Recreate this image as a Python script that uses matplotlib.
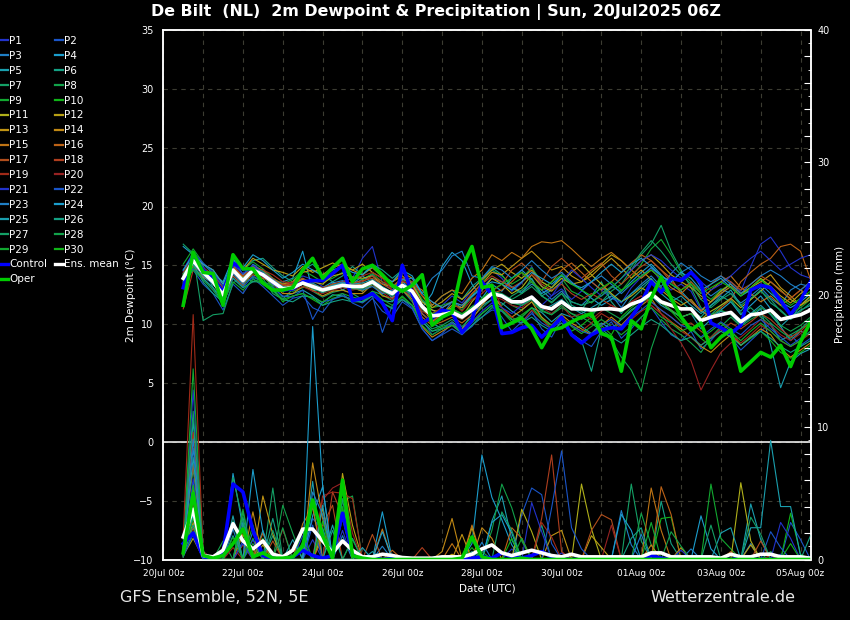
import numpy as np
import pandas as pd
import matplotlib
matplotlib.use('Agg')
import matplotlib.pyplot as plt
import matplotlib.dates as mdates
from matplotlib.ticker import MultipleLocator, FuncFormatter

# 6-hourly steps of the GFS ensemble run 20Jul2025 06Z
times = pd.date_range('2025-07-20 12:00', periods=64, freq='6h')

# ---- 2m dewpoint (deg C) ----
p01_dew = [14.5, 15.8, 14.9, 13.8, 12.9, 15.0, 14.1, 14.8,
           14.6, 13.9, 13.2, 13.5, 14.1, 13.8, 13.2, 13.0,
           13.6, 13.9, 15.6, 16.6, 13.5, 12.9, 13.8, 12.4,
           10.9, 10.2, 11.6, 12.4, 11.8, 12.9, 13.8, 14.6,
           13.9, 12.8, 13.5, 14.9, 13.2, 12.4, 13.0, 12.1,
           12.8, 13.6, 12.9, 12.2, 11.8, 13.1, 14.0, 14.8,
           13.6, 12.9, 13.4, 12.8, 11.2, 11.9, 12.5, 13.6,
           12.8, 14.9, 16.8, 17.4, 16.2, 14.8, 14.2, 13.9]
p02_dew = [13.6, 14.6, 13.4, 12.6, 11.2, 13.4, 12.6, 13.9,
           13.2, 12.4, 11.6, 12.2, 12.4, 11.4, 11.0, 12.1,
           12.6, 11.8, 11.4, 12.2, 11.1, 10.6, 11.9, 11.3,
           9.6, 8.6, 9.2, 10.1, 9.2, 9.8, 10.9, 11.6,
           10.6, 9.4, 10.2, 11.1, 9.6, 8.9, 10.4, 9.2,
           8.6, 8.1, 9.4, 10.2, 8.8, 9.6, 10.6, 11.4,
           10.2, 9.1, 8.6, 9.4, 7.9, 8.6, 9.6, 8.9,
           7.8, 8.6, 9.4, 10.1, 8.6, 9.1, 8.2, 8.8]
p03_dew = [14.1, 15.6, 14.6, 14.0, 12.2, 14.9, 13.8, 15.1,
           14.5, 13.7, 12.8, 13.3, 13.9, 13.4, 12.6, 13.5,
           13.7, 13.4, 13.8, 14.2, 13.1, 12.2, 13.9, 13.6,
           12.0, 11.2, 10.8, 11.9, 11.4, 12.3, 13.1, 13.9,
           13.6, 13.2, 12.7, 13.4, 12.9, 12.1, 12.8, 11.9,
           11.6, 12.4, 13.1, 12.5, 11.4, 12.6, 13.4, 14.1,
           13.2, 14.3, 15.2, 14.6, 13.1, 12.4, 13.0, 12.6,
           11.8, 12.4, 13.1, 12.2, 11.6, 12.9, 13.4, 13.2]
p04_dew = [16.6, 15.9, 15.1, 14.3, 13.6, 15.6, 14.2, 14.9,
           14.1, 13.5, 13.6, 13.9, 16.2, 12.8, 13.1, 13.6,
           12.9, 13.4, 14.1, 13.5, 12.6, 12.9, 13.6, 12.9,
           11.4, 12.6, 14.9, 16.1, 15.4, 13.4, 12.2, 13.4,
           12.8, 13.9, 14.6, 13.8, 12.6, 13.1, 14.2, 13.5,
           12.9, 12.2, 11.6, 12.1, 12.8, 13.6, 14.4, 15.1,
           14.2, 13.4, 12.8, 11.9, 11.1, 10.6, 11.2, 11.9,
           10.8, 11.6, 12.4, 11.3, 9.8, 8.6, 9.4, 9.1]
p05_dew = [13.2, 14.9, 13.9, 13.1, 11.8, 14.1, 13.2, 14.5,
           14.1, 13.2, 12.3, 12.6, 12.9, 12.4, 11.8, 12.5,
           12.4, 12.1, 11.9, 12.6, 12.0, 11.9, 12.9, 12.3,
           10.9, 10.1, 9.6, 10.2, 9.6, 10.9, 11.6, 12.1,
           11.8, 11.1, 10.6, 11.4, 11.0, 10.2, 10.9, 10.6,
           9.8, 9.2, 10.1, 9.6, 10.4, 11.2, 11.8, 12.4,
           11.6, 11.1, 10.6, 10.9, 9.6, 10.4, 11.1, 10.8,
           9.9, 10.6, 11.3, 8.2, 4.6, 6.8, 7.5, 7.9]
p06_dew = [13.9, 16.2, 14.9, 13.1, 12.2, 14.9, 14.6, 15.4,
           15.6, 14.8, 14.1, 13.6, 14.6, 15.1, 14.2, 13.6,
           14.1, 14.9, 14.2, 15.1, 14.6, 13.9, 14.6, 13.4,
           11.9, 11.6, 12.4, 12.9, 12.1, 13.2, 13.9, 14.8,
           14.2, 13.1, 12.6, 13.9, 12.4, 12.9, 13.6, 11.6,
           11.2, 12.4, 13.6, 11.9, 10.9, 12.1, 12.9, 13.8,
           13.1, 12.4, 11.9, 11.2, 10.6, 11.6, 12.4, 11.9,
           11.1, 12.1, 12.9, 11.8, 11.2, 10.4, 11.6, 12.3]
p07_dew = [16.8, 16.0, 10.3, 10.8, 10.9, 13.5, 14.0, 13.6,
           13.9, 12.6, 12.1, 13.0, 13.4, 12.8, 12.3, 12.7,
           12.9, 12.6, 12.1, 12.8, 12.5, 12.0, 12.9, 11.9,
           10.4, 9.6, 9.9, 10.4, 9.8, 10.6, 11.4, 12.1,
           11.6, 12.4, 12.9, 13.6, 12.4, 11.8, 12.6, 11.4,
           11.1, 10.6, 11.9, 12.8, 13.4, 14.6, 15.9, 16.8,
           18.4, 16.2, 14.6, 13.1, 11.4, 10.8, 11.6, 12.1,
           10.9, 11.4, 10.6, 9.9, 8.6, 9.1, 9.6, 10.4]
p08_dew = [14.6, 15.7, 14.1, 13.9, 12.1, 14.4, 13.4, 14.0,
           13.6, 13.3, 13.1, 12.8, 13.1, 13.4, 12.9, 12.8,
           13.6, 13.1, 12.8, 13.4, 12.9, 12.4, 13.1, 12.6,
           11.1, 10.9, 11.2, 10.8, 10.4, 11.1, 11.9, 12.6,
           12.4, 11.6, 11.2, 11.9, 11.1, 10.8, 11.4, 10.9,
           10.6, 10.1, 9.4, 8.6, 7.2, 6.1, 4.3, 7.9,
           10.4, 9.6, 9.1, 8.4, 7.6, 8.9, 9.8, 10.6,
           9.8, 10.4, 10.9, 10.1, 9.4, 8.8, 9.6, 10.1]
p09_dew = [15.1, 16.4, 15.2, 14.3, 13.1, 15.4, 14.6, 15.3,
           14.7, 13.9, 13.4, 13.8, 14.6, 14.1, 13.6, 13.9,
           14.4, 14.0, 13.8, 14.3, 13.6, 13.1, 13.8, 13.4,
           12.1, 11.4, 11.6, 11.9, 11.2, 12.4, 13.6, 14.6,
           14.1, 13.4, 13.9, 14.8, 13.6, 13.1, 13.9, 12.8,
           12.4, 11.8, 12.6, 13.2, 12.8, 13.9, 15.1, 16.4,
           17.2, 15.9, 14.4, 13.6, 12.8, 12.1, 12.9, 13.4,
           12.6, 13.1, 13.8, 12.9, 11.6, 10.9, 11.4, 12.1]
p10_dew = [13.4, 14.8, 14.0, 13.6, 12.8, 14.6, 13.7, 14.4,
           14.2, 13.1, 11.9, 12.4, 12.6, 12.1, 11.6, 12.2,
           12.4, 12.0, 11.9, 12.6, 11.8, 11.4, 12.3, 11.6,
           10.2, 9.4, 9.8, 10.1, 9.4, 10.2, 10.9, 11.6,
           11.1, 10.2, 10.8, 11.4, 10.6, 9.6, 10.4, 9.4,
           9.9, 10.6, 9.9, 9.1, 10.6, 11.4, 12.1, 12.8,
           11.9, 11.1, 10.2, 9.6, 8.8, 8.1, 8.9, 9.6,
           8.2, 8.8, 9.4, 8.6, 7.6, 7.1, 7.6, 8.2]
p11_dew = [14.2, 15.6, 14.4, 13.4, 12.4, 14.8, 13.6, 14.4,
           14.0, 13.4, 13.2, 13.4, 13.8, 13.6, 13.4, 14.1,
           14.3, 14.0, 13.9, 14.1, 13.4, 13.2, 13.9, 13.4,
           11.9, 11.2, 11.0, 11.4, 10.6, 11.9, 12.9, 13.9,
           13.4, 12.6, 13.1, 14.2, 13.2, 12.8, 13.6, 14.4,
           15.1, 14.2, 13.4, 12.6, 11.9, 12.4, 13.1, 12.6,
           11.8, 11.2, 10.6, 10.9, 10.4, 11.1, 11.6, 12.2,
           11.4, 12.1, 12.8, 13.6, 12.9, 12.1, 11.6, 12.4]
p12_dew = [13.8, 15.6, 15.1, 14.6, 13.4, 15.1, 14.6, 15.6,
           15.1, 14.6, 14.4, 14.1, 14.9, 14.4, 14.8, 15.2,
           14.9, 14.6, 15.1, 14.4, 13.9, 13.6, 14.4, 13.9,
           12.4, 11.4, 11.9, 12.6, 12.1, 12.9, 13.8, 14.6,
           15.1, 14.4, 13.9, 14.6, 13.6, 13.1, 13.9, 13.4,
           13.6, 14.4, 15.1, 15.9, 15.4, 14.6, 15.4, 15.9,
           15.1, 14.2, 13.6, 13.1, 12.4, 11.9, 12.8, 13.4,
           12.6, 13.1, 13.9, 13.2, 12.4, 11.8, 12.6, 13.1]
p13_dew = [14.0, 15.5, 14.6, 13.9, 12.4, 14.9, 14.0, 14.6,
           14.3, 13.8, 13.4, 13.6, 14.4, 14.6, 14.2, 14.8,
           15.1, 14.6, 14.2, 14.8, 14.0, 13.6, 14.1, 13.4,
           11.4, 10.2, 10.9, 11.6, 11.4, 12.6, 13.4, 14.4,
           14.2, 14.9, 15.6, 16.2, 15.4, 14.6, 14.9, 14.1,
           13.6, 14.1, 14.9, 15.6, 14.8, 13.9, 14.6, 13.8,
           12.9, 12.2, 11.6, 12.1, 11.1, 11.9, 12.6, 13.2,
           12.4, 13.1, 13.6, 14.2, 13.1, 12.4, 11.6, 12.1]
p14_dew = [13.7, 15.3, 14.0, 13.5, 12.3, 14.7, 13.8, 14.5,
           14.3, 13.4, 12.6, 12.6, 13.2, 12.9, 12.4, 12.8,
           12.9, 12.6, 12.6, 13.4, 12.4, 12.2, 12.9, 12.1,
           9.8, 8.9, 9.4, 9.9, 9.6, 10.4, 11.6, 12.6,
           11.4, 10.6, 11.2, 11.9, 10.6, 9.9, 10.8, 10.1,
           9.6, 9.1, 9.9, 10.6, 9.9, 10.8, 11.6, 12.2,
           10.9, 10.2, 9.6, 8.9, 8.1, 7.6, 8.4, 9.1,
           8.2, 8.9, 9.6, 9.1, 7.9, 7.2, 7.8, 8.4]
p15_dew = [14.3, 15.9, 14.8, 13.6, 12.9, 14.6, 13.9, 14.9,
           14.6, 13.6, 12.9, 13.4, 13.8, 13.1, 12.9, 13.4,
           13.4, 13.1, 12.8, 13.6, 12.8, 12.4, 13.6, 13.4,
           12.9, 11.6, 12.4, 12.9, 12.6, 13.9, 14.6, 15.9,
           15.4, 16.1, 15.6, 16.6, 17.0, 16.9, 17.1, 16.4,
           15.6, 14.9, 15.6, 16.1, 15.4, 14.6, 13.9, 14.6,
           13.9, 13.1, 12.6, 13.4, 12.1, 12.9, 13.6, 14.1,
           13.1, 12.6, 11.9, 12.4, 11.6, 12.2, 12.9, 12.4]
p16_dew = [13.5, 15.0, 14.3, 13.8, 12.6, 14.4, 13.5, 14.2,
           13.9, 13.6, 13.4, 13.1, 13.4, 13.0, 12.9, 13.2,
           13.4, 13.3, 13.4, 13.6, 12.9, 12.6, 13.2, 12.4,
           10.6, 9.9, 10.2, 10.6, 10.1, 10.8, 11.9, 12.6,
           12.9, 13.6, 14.4, 13.6, 12.9, 13.6, 14.6, 15.2,
           14.4, 13.6, 12.9, 13.6, 14.4, 15.2, 15.9, 15.4,
           14.6, 13.9, 12.6, 11.9, 11.2, 10.6, 11.4, 12.1,
           13.6, 14.4, 15.1, 15.6, 16.6, 16.8, 16.2, 13.8]
p17_dew = [13.9, 15.4, 14.5, 13.7, 11.6, 14.1, 13.3, 14.6,
           14.4, 13.9, 13.3, 13.6, 13.9, 13.4, 13.1, 13.4,
           13.6, 13.5, 13.7, 13.9, 13.4, 12.9, 13.4, 12.6,
           10.9, 10.1, 10.9, 11.2, 10.6, 11.4, 12.1, 12.8,
           13.4, 14.6, 15.2, 14.4, 13.6, 14.9, 15.6, 14.8,
           13.9, 14.6, 15.2, 14.1, 13.4, 14.2, 14.9, 15.4,
           14.6, 13.6, 12.9, 13.6, 12.6, 13.4, 14.1, 13.6,
           12.9, 13.4, 14.1, 13.6, 12.8, 12.2, 12.9, 13.6]
p18_dew = [11.3, 14.6, 14.8, 14.2, 13.1, 14.9, 14.1, 14.8,
           14.1, 13.5, 13.3, 13.4, 13.6, 13.3, 13.1, 13.3,
           13.2, 13.4, 13.6, 14.1, 13.6, 13.2, 13.9, 13.6,
           12.4, 11.9, 11.4, 11.9, 11.6, 12.6, 13.4, 14.1,
           13.6, 13.1, 13.6, 14.2, 13.4, 12.9, 13.4, 12.6,
           12.1, 12.6, 12.1, 11.6, 11.1, 11.9, 12.4, 11.9,
           11.2, 10.6, 9.9, 10.1, 9.4, 8.8, 9.4, 10.1,
           9.6, 10.2, 10.9, 10.4, 9.6, 8.9, 9.4, 10.2]
p19_dew = [14.4, 15.6, 14.7, 14.1, 12.8, 14.7, 13.8, 14.6,
           14.6, 14.2, 13.6, 13.5, 13.4, 13.1, 12.8, 13.2,
           13.6, 13.9, 14.1, 14.4, 13.9, 12.9, 13.7, 13.2,
           11.6, 10.9, 11.4, 11.9, 11.1, 12.1, 12.6, 13.4,
           11.4, 10.6, 10.1, 11.2, 10.4, 9.6, 10.6, 9.9,
           9.4, 10.1, 10.9, 10.4, 9.6, 10.4, 11.1, 11.6,
           10.9, 10.2, 9.4, 8.9, 8.2, 8.9, 9.6, 9.1,
           8.4, 9.1, 9.9, 9.4, 8.6, 8.1, 8.6, 9.2]
p20_dew = [14.0, 15.3, 14.4, 13.6, 12.5, 14.4, 13.6, 14.4,
           14.0, 13.6, 13.0, 12.9, 13.2, 12.8, 12.6, 12.9,
           13.1, 12.9, 13.1, 13.4, 12.7, 12.1, 12.9, 12.4,
           11.1, 10.6, 10.8, 10.9, 10.4, 11.1, 11.9, 12.4,
           12.1, 11.6, 11.4, 12.1, 11.4, 10.9, 11.6, 10.6,
           10.9, 10.4, 11.1, 11.6, 11.2, 11.9, 12.4, 11.6,
           10.9, 9.6, 8.4, 6.9, 4.4, 6.1, 7.6, 8.4,
           8.9, 9.6, 10.4, 9.9, 9.1, 8.6, 9.2, 9.9]
p21_dew = [14.6, 16.1, 15.2, 14.4, 13.2, 15.1, 14.3, 15.0,
           14.4, 13.6, 12.9, 13.1, 13.6, 13.3, 12.9, 13.1,
           13.4, 13.1, 13.3, 13.6, 13.0, 12.4, 13.1, 12.4,
           10.4, 9.1, 9.6, 10.1, 9.4, 10.2, 11.1, 11.8,
           11.4, 10.9, 11.6, 12.4, 11.6, 12.4, 13.6, 14.6,
           13.9, 13.1, 12.4, 13.1, 13.9, 14.6, 15.4, 15.9,
           15.4, 14.6, 13.9, 14.4, 13.6, 12.9, 13.4, 14.1,
           14.9, 15.6, 16.2, 15.4, 14.6, 15.1, 15.6, 15.9]
p22_dew = [13.3, 14.7, 13.8, 12.9, 11.7, 13.9, 13.1, 14.1,
           13.6, 13.1, 12.4, 12.3, 12.9, 10.4, 11.9, 12.1,
           12.4, 12.1, 11.8, 12.4, 9.3, 11.6, 12.1, 11.4,
           9.6, 8.6, 9.1, 9.6, 9.1, 9.9, 10.6, 11.2,
           11.1, 10.4, 10.1, 10.9, 10.1, 9.6, 10.4, 9.9,
           9.4, 9.1, 9.9, 10.4, 9.8, 10.6, 11.2, 11.9,
           11.2, 10.6, 9.9, 9.6, 8.9, 9.6, 10.2, 9.6,
           9.1, 9.9, 10.4, 9.6, 8.9, 8.2, 8.8, 9.4]
p23_dew = [13.6, 15.2, 14.1, 13.4, 12.4, 14.3, 13.4, 14.6,
           14.2, 13.4, 12.9, 13.2, 13.6, 13.1, 12.7, 13.2,
           13.6, 13.2, 12.9, 13.2, 12.6, 12.9, 13.8, 13.9,
           12.6, 13.9, 14.6, 15.8, 16.2, 14.1, 13.9, 14.9,
           14.6, 13.9, 14.6, 15.4, 14.6, 13.9, 14.4, 13.6,
           12.9, 13.6, 14.1, 13.4, 12.6, 13.4, 14.1, 14.8,
           14.1, 13.6, 14.4, 14.9, 14.1, 13.6, 14.1, 13.4,
           12.6, 13.4, 14.1, 14.6, 14.1, 13.4, 12.9, 13.6]
p24_dew = [14.6, 15.9, 15.1, 14.6, 13.4, 15.4, 14.8, 15.9,
           15.4, 14.6, 13.9, 14.4, 15.1, 14.6, 14.1, 14.6,
           14.9, 14.4, 14.2, 14.9, 14.1, 13.6, 14.6, 14.1,
           12.6, 11.9, 11.4, 11.9, 11.6, 12.4, 13.1, 13.6,
           13.4, 12.9, 13.6, 14.4, 13.9, 13.4, 14.1, 13.4,
           13.1, 13.6, 14.4, 15.1, 14.4, 15.1, 15.6, 14.9,
           14.1, 13.6, 14.4, 13.9, 12.9, 13.4, 13.9, 13.1,
           12.4, 12.9, 13.4, 12.6, 11.9, 11.4, 11.9, 12.6]
p25_dew = [14.1, 15.5, 14.5, 13.5, 12.2, 14.5, 13.6, 14.5,
           14.3, 13.8, 13.2, 13.0, 13.4, 13.5, 13.0, 13.3,
           13.5, 13.4, 13.5, 13.8, 13.2, 12.7, 13.1, 12.6,
           11.4, 10.6, 10.9, 11.1, 10.6, 11.4, 12.0, 12.6,
           12.4, 11.9, 11.6, 12.1, 11.2, 11.6, 12.1, 11.4,
           10.9, 11.4, 11.9, 12.4, 11.9, 12.6, 13.2, 13.9,
           12.6, 11.9, 12.4, 11.6, 10.9, 11.6, 12.2, 12.9,
           11.6, 10.9, 11.6, 10.8, 9.8, 10.6, 11.2, 11.6]
p26_dew = [14.3, 15.1, 13.6, 12.6, 11.9, 13.9, 13.1, 13.6,
           13.6, 12.9, 12.1, 11.9, 12.4, 12.3, 11.6, 11.9,
           12.1, 11.9, 11.9, 12.4, 11.8, 11.3, 12.1, 11.6,
           10.2, 9.4, 9.6, 9.9, 9.2, 9.9, 10.6, 11.4,
           11.2, 10.4, 10.1, 10.6, 9.9, 9.4, 10.1, 9.2,
           8.6, 6.0, 9.6, 8.9, 8.4, 9.1, 9.8, 10.4,
           9.9, 9.2, 8.6, 8.9, 8.2, 8.8, 9.4, 8.9,
           8.2, 8.9, 9.4, 8.8, 8.1, 7.6, 8.1, 8.6]
p27_dew = [13.8, 15.5, 14.3, 13.6, 12.5, 14.5, 13.9, 14.7,
           14.5, 13.5, 13.1, 13.2, 13.6, 13.0, 12.7, 13.0,
           13.2, 13.0, 13.0, 13.4, 12.8, 12.4, 13.0, 12.5,
           11.3, 10.7, 10.9, 11.3, 10.8, 11.5, 12.1, 12.8,
           12.6, 12.1, 12.6, 13.2, 12.4, 11.9, 12.6, 11.9,
           11.6, 11.9, 12.4, 13.1, 13.9, 14.9, 16.1, 17.1,
           16.2, 15.1, 14.2, 13.4, 12.1, 11.4, 12.1, 12.6,
           11.6, 12.2, 12.8, 12.1, 11.1, 10.4, 11.1, 11.8]
p28_dew = [14.2, 15.6, 14.5, 13.8, 12.7, 14.6, 13.6, 14.4,
           14.2, 13.7, 13.1, 13.0, 13.5, 13.2, 12.8, 13.0,
           13.3, 13.1, 13.1, 13.6, 13.0, 12.5, 13.2, 12.7,
           11.5, 10.8, 10.6, 10.9, 10.5, 11.2, 11.8, 12.6,
           12.4, 11.8, 11.6, 12.1, 11.2, 10.8, 11.6, 10.9,
           10.4, 10.9, 11.4, 10.9, 10.4, 11.1, 11.8, 12.4,
           11.8, 11.2, 10.6, 10.9, 10.2, 10.8, 11.2, 10.8,
           10.1, 10.8, 11.4, 10.9, 9.9, 9.4, 9.9, 10.6]
p29_dew = [13.5, 14.6, 13.8, 12.9, 11.8, 13.6, 12.9, 13.8,
           13.4, 12.8, 12.1, 12.4, 12.6, 12.2, 11.9, 12.4,
           12.6, 12.3, 12.1, 12.8, 12.1, 11.6, 12.4, 11.6,
           9.9, 9.1, 9.6, 9.9, 9.4, 10.1, 10.9, 11.6,
           11.2, 10.4, 10.6, 11.4, 10.4, 9.9, 10.6, 9.8,
           9.2, 9.8, 10.4, 9.8, 9.1, 9.8, 10.6, 11.4,
           10.6, 10.1, 9.4, 9.8, 8.8, 9.4, 10.1, 9.4,
           8.6, 9.4, 10.1, 9.4, 8.6, 8.1, 8.6, 9.4]
p30_dew = [14.0, 15.4, 14.5, 13.6, 12.8, 14.7, 13.8, 14.6,
           14.1, 13.6, 13.0, 13.2, 13.6, 13.3, 12.9, 13.2,
           13.3, 13.2, 13.3, 13.7, 13.1, 12.6, 13.3, 12.8,
           11.6, 10.9, 11.1, 11.3, 10.9, 11.4, 12.2, 12.9,
           13.4, 13.9, 14.4, 13.6, 12.9, 13.6, 14.2, 13.4,
           12.9, 12.4, 13.1, 13.6, 12.9, 13.4, 14.1, 14.6,
           13.9, 13.4, 12.9, 13.4, 12.6, 13.1, 13.6, 13.1,
           12.4, 13.1, 13.8, 13.1, 12.2, 11.6, 12.2, 12.8]
control_dew = [13.1, 15.9, 14.6, 13.9, 12.7, 15.2, 14.7, 14.6,
               14.2, 13.6, 12.9, 13.0, 13.6, 13.7, 13.7, 14.3,
               15.0, 12.0, 12.2, 12.6, 11.8, 10.3, 15.0, 12.6,
               10.1, 10.6, 11.2, 11.0, 9.3, 10.3, 13.6, 12.5,
               9.2, 9.3, 9.7, 9.9, 8.9, 9.7, 10.6, 9.1,
               8.4, 9.1, 9.5, 9.7, 9.6, 10.6, 11.8, 13.6,
               12.7, 13.9, 13.7, 14.4, 13.5, 10.1, 9.7, 9.2,
               9.9, 12.9, 13.3, 13.1, 12.0, 10.8, 12.0, 13.6]
mean_dew = [13.9, 15.4, 14.4, 13.6, 12.5, 14.6, 13.7, 14.6,
            14.2, 13.6, 13.0, 13.1, 13.5, 13.2, 12.9, 13.1,
            13.3, 13.2, 13.2, 13.6, 13.0, 12.6, 13.3, 12.8,
            11.5, 10.7, 10.8, 11.0, 10.6, 11.2, 11.9, 12.6,
            12.4, 11.9, 11.9, 12.3, 11.5, 11.3, 11.9, 11.3,
            11.3, 11.2, 11.3, 11.3, 11.2, 11.7, 12.0, 12.6,
            11.9, 11.6, 11.3, 11.3, 10.3, 10.6, 10.8, 11.0,
            10.2, 10.8, 10.9, 11.2, 10.4, 10.6, 10.8, 11.2]
oper_dew = [11.6, 16.1, 14.4, 14.3, 11.6, 15.9, 14.7, 14.7,
            13.5, 12.9, 12.9, 13.1, 14.6, 15.6, 13.9, 14.8,
            15.6, 13.6, 14.7, 15.0, 14.2, 13.3, 12.8, 13.3,
            14.2, 9.9, 10.6, 11.0, 14.8, 16.6, 13.1, 13.3,
            9.7, 10.1, 10.5, 9.6, 8.0, 9.5, 9.7, 10.2,
            10.6, 10.9, 9.2, 8.9, 6.0, 10.3, 9.6, 12.2,
            14.0, 12.2, 10.6, 9.5, 10.1, 8.0, 8.9, 9.5,
            6.0, 6.8, 7.6, 7.2, 8.2, 6.4, 8.5, 10.2]

# ---- precipitation (mm / 6h) ----
p01_rain = [0.8, 12.8, 0.6, 0, 0, 1.2, 2.8, 0,
            0, 0, 0, 0, 0, 1.5, 0, 0,
            2.2, 0, 0, 0, 0, 0, 0, 0,
            0, 0, 0, 0, 0, 0, 0, 0,
            0, 0.8, 0, 0, 0, 0, 0.5, 0,
            0, 0, 0, 0, 0, 0, 0, 0,
            0, 0, 0, 0, 0, 0, 0, 0,
            0, 0, 0, 0, 0.4, 0, 0, 0]
p02_rain = [0.4, 3.6, 0.2, 0, 0, 0, 1.4, 0,
            0, 0, 0, 0, 0, 3.1, 2.2, 0,
            0, 0, 0, 0, 0, 0, 0, 0,
            0, 0, 0, 0, 0, 0, 0, 0,
            0, 0, 3.4, 5.4, 4.9, 1.2, 0, 0,
            0, 0, 0, 0, 0, 0, 0, 0,
            0, 0, 0, 0, 0, 0, 0, 0,
            0, 0, 0, 0, 0, 2.8, 1.5, 0]
p03_rain = [1.2, 8.4, 0.3, 0, 0, 0, 0, 2.1,
            0, 0, 0, 0, 0, 4.1, 0, 0,
            1.8, 0, 0, 0, 1.0, 0, 0, 0,
            0, 0, 0, 0, 0, 0, 0, 0,
            0, 0, 0, 0, 0, 0, 0, 0,
            0, 0, 0, 0, 3.7, 1.1, 0, 0,
            0, 0, 0, 0, 0, 0, 0, 0,
            0, 1.2, 0, 0, 0, 0, 0, 0]
p04_rain = [0.3, 5.8, 0.1, 0, 0, 6.5, 2.4, 0,
            0, 0, 0, 0, 0, 3.3, 5.5, 0,
            0, 0, 0, 0, 3.6, 0, 0, 0,
            0, 0, 0, 0, 0, 1.2, 7.9, 4.7,
            3.0, 1.1, 0, 0, 0, 0, 0, 0,
            0, 0, 0, 0, 0, 0, 0, 0,
            0, 0, 0, 0, 3.3, 0.8, 0, 0,
            0, 0, 0, 0, 0, 0, 0, 0]
p05_rain = [0.9, 10.5, 0.4, 0, 0, 1.8, 0, 0,
            2.2, 0, 0, 0, 0, 5.9, 0, 2.6,
            0, 0, 0, 0.6, 0, 0, 0, 0,
            0, 0, 0, 0, 0, 0, 0, 2.9,
            4.8, 1.5, 0, 0, 0, 0, 0, 0,
            0, 0, 0, 0, 0, 0, 0, 0,
            0, 0, 0, 0, 0, 0, 0, 0,
            0, 4.2, 1.5, 0, 0, 0, 0, 0]
p06_rain = [0.2, 2.1, 0, 0, 0, 0, 3.2, 0,
            0, 1.8, 0, 0, 0, 0, 2.4, 0,
            0, 1.6, 0, 0, 0, 0, 0, 0,
            0, 0, 0, 0, 0, 0.6, 0, 0,
            0, 0, 0, 0, 2.6, 0, 0, 0,
            0, 0, 0, 0, 0, 0, 0, 0,
            4.4, 1.2, 0, 0, 0, 0, 0, 0,
            0, 0, 0, 0, 0, 0, 0, 0]
p07_rain = [1.5, 6.8, 0.5, 0, 0, 6.2, 2.9, 0,
            0, 5.4, 0, 0, 1.1, 0, 0, 0,
            5.5, 0, 0, 0, 0, 0, 0, 0,
            0, 0, 0, 0, 0, 0, 0, 0,
            0, 0, 0, 0, 0, 0, 0, 0,
            0, 0, 0, 0, 0, 5.7, 1.4, 0,
            0, 0, 0, 0, 0, 0, 0, 0,
            0, 0, 0, 0.6, 0, 0, 0, 0]
p08_rain = [0.6, 4.1, 0.2, 0, 1.4, 0, 0, 1.2,
            0, 0, 4.1, 2.0, 0, 0, 0, 0,
            4.4, 4.8, 0, 0, 0, 0, 0, 0,
            0, 0, 0, 0, 0, 0, 0, 2.2,
            5.7, 3.9, 1.4, 0, 0, 0, 0, 0,
            0, 0, 0, 0, 0, 0, 3.5, 1.1,
            0, 0, 0, 0, 0, 0, 0, 0,
            0, 0, 0, 0, 0, 0, 0, 0]
p09_rain = [0.8, 14.4, 0.3, 0, 0, 0, 3.8, 0,
            1.6, 0, 0, 0, 0, 0, 2.0, 0,
            5.2, 0, 0, 0, 0, 0, 0, 0,
            0, 0, 0, 0, 0, 0, 0, 0,
            0, 0, 0, 0, 0, 0, 0, 0,
            0, 0, 0, 0, 0, 0, 0, 0,
            0, 0, 0, 0, 0, 5.7, 1.6, 0.8,
            0, 0, 0, 0, 0, 0, 0, 0]
p10_rain = [0.5, 3.2, 0, 0, 0, 0, 0, 1.6,
            0, 0, 0, 0, 2.2, 0, 0, 0,
            3.8, 0, 0, 0, 0, 0, 0, 0,
            0, 0, 0, 0, 0, 0.9, 0, 0,
            0, 0, 0, 0, 0, 0, 0, 0,
            0, 0, 0, 0, 0, 0, 0, 0,
            3.1, 3.2, 0, 0, 0, 0, 0, 0,
            0, 0, 0, 0, 0, 3.5, 0.4, 0]
p11_rain = [0.3, 1.6, 0.1, 0, 0, 0, 0, 0,
            1.1, 0, 0, 0, 0, 0, 1.9, 0,
            0, 0, 0, 0, 0, 0, 0, 0,
            0, 0, 0, 0, 0, 2.4, 0, 0,
            0, 0, 3.8, 2.1, 0, 0, 0, 0,
            5.7, 2.3, 0, 0, 0, 0, 0, 0,
            0, 0, 0, 0, 0, 0, 0, 0,
            5.8, 1.4, 0, 0, 0, 0, 0, 0]
p12_rain = [0.7, 4.6, 0.2, 0, 0, 0, 1.9, 0,
            0, 0, 0, 0, 0, 0, 0, 0,
            6.5, 2.6, 0, 0, 0, 0, 0, 0,
            0, 0, 0, 0.4, 0, 0, 0, 0,
            0, 0, 0, 0, 0, 0, 0, 0,
            0, 1.8, 0.9, 0, 0, 0, 0, 0,
            0, 0, 0, 0, 0, 0, 0, 0,
            0, 1.1, 0, 0, 0, 0, 0, 0]
p13_rain = [0.4, 2.8, 0, 0, 0, 0, 0, 0,
            4.8, 1.9, 0, 0, 0, 0, 3.9, 0,
            0, 0, 0, 0, 0, 0.4, 0, 0,
            0, 0, 0, 0, 1.9, 0, 0, 0,
            0, 0, 0, 0, 0, 1.8, 2.2, 0,
            0, 0, 0, 0, 0, 0, 0, 0,
            0, 0, 0.9, 0, 0, 0, 0, 0,
            0, 0, 0, 0, 0, 0, 0, 0]
p14_rain = [1.1, 5.3, 0.3, 0, 0, 0, 0, 3.6,
            0, 0, 0, 0, 0, 7.3, 3.1, 0,
            0, 0, 0, 0, 0, 0, 0, 0,
            0, 0, 0.6, 3.1, 0, 0, 2.4, 1.6,
            0, 0, 0, 0, 0, 0, 0, 0,
            0, 0, 0, 0, 0, 0, 0, 1.1,
            0, 0, 0, 0, 0, 0, 0, 0,
            0, 0, 0, 0, 0, 0, 0, 0]
p15_rain = [0.2, 3.9, 0.1, 0, 0, 0, 2.2, 0,
            0, 0, 0, 0, 2.7, 3.9, 0, 0,
            0, 0, 0, 0, 2.3, 0, 0, 0,
            0, 0, 0, 1.2, 0, 2.6, 0, 0,
            0, 0, 0, 0, 0, 0, 0, 0,
            0, 0, 0, 0, 0, 0, 0, 5.4,
            2.2, 0, 0, 0, 0, 0, 0, 0,
            0, 0, 0, 0, 0, 0, 0, 0]
p16_rain = [0.6, 2.4, 0, 0, 0, 0, 0, 0,
            2.0, 0, 0, 0, 0, 0, 1.6, 0,
            0, 0, 0, 0, 0, 0.7, 0, 0,
            0, 0, 0, 0, 0, 0, 0, 0,
            0, 2.4, 1.6, 0, 0, 0, 0, 0,
            0, 0, 0, 0, 0, 0, 0, 0,
            5.5, 3.4, 0, 0, 0, 0, 0, 0.6,
            0, 0, 0, 0, 0, 0, 0, 0]
p17_rain = [0.9, 7.2, 0.4, 0, 0, 0, 0, 0,
            0, 1.4, 0, 0, 0, 0, 2.6, 4.1,
            0, 0, 0, 1.9, 0, 0, 0, 0,
            0, 0, 0, 0, 0, 0, 0, 0,
            0, 0, 0, 0, 0, 0, 0, 0,
            0, 2.2, 3.4, 3.0, 0, 0, 0, 0,
            0, 0, 0, 0, 0, 0, 0, 0,
            0, 0, 1.4, 0, 0, 0, 0, 0]
p18_rain = [0.4, 9.6, 0.2, 0, 0, 0, 1.1, 0,
            0, 0, 0, 0, 0, 0, 0, 5.1,
            3.3, 0, 0, 0, 0, 0, 0, 0,
            0.9, 0, 0, 0, 0, 0, 0, 0,
            0, 0, 0, 0, 3.1, 7.9, 0.6, 0,
            0, 0, 0, 0, 0, 0, 0, 0,
            0, 0, 0, 0, 0, 0, 0, 0,
            0, 0, 0, 0.3, 0, 0, 0, 0]
p19_rain = [1.8, 18.5, 0.6, 0, 0, 0.9, 0, 0,
            0, 0, 0, 0, 0, 0, 4.8, 5.1,
            5.0, 4.6, 0, 0, 0, 0, 0, 0,
            0, 0, 0, 0, 0, 0, 0, 0,
            0, 0, 0, 0, 2.8, 1.7, 0, 0,
            0, 0, 0, 0, 0, 0, 0, 0,
            0, 0, 0, 0, 0, 0, 0, 0,
            0, 0, 0, 0, 0, 0, 0, 0]
p20_rain = [0.3, 4.3, 0.1, 0, 0, 0, 0, 0,
            0, 0, 2.3, 0, 0, 0, 4.5, 5.4,
            5.8, 2.0, 0, 0, 0, 0, 0, 0,
            0, 0, 0, 0, 0, 0, 0, 0,
            0, 0, 0, 0, 0, 0, 0, 0,
            0, 0, 0, 2.6, 0, 0, 0, 0,
            0, 0, 0, 0, 0, 0, 0, 0,
            0, 0, 0, 0, 0, 0, 0, 0]
p21_rain = [0.5, 6.1, 0.2, 0, 0, 0, 1.2, 0,
            0, 0, 0, 0, 1.8, 0, 0, 0,
            0, 0, 0, 0, 0, 0, 0, 0,
            0, 0, 0, 0, 0, 0, 0, 0,
            0, 0, 0, 4.3, 2.1, 0, 0, 0,
            0, 0, 0, 0, 0, 0, 0, 0,
            0, 0, 0.7, 0, 0, 0, 0, 0,
            0, 0, 0, 0, 2.8, 1.6, 0, 0]
p22_rain = [0.2, 1.9, 0, 0, 0, 0, 0, 1.5,
            0, 0, 0, 0, 0, 2.6, 0, 0,
            0, 0, 0, 0, 0, 0, 0, 0,
            0, 0, 0, 0, 0, 0, 0, 0,
            0, 0, 0, 0, 0, 3.9, 8.2, 2.4,
            0.8, 0, 0, 0, 0, 0, 0, 0,
            0, 0, 0, 0, 0, 0, 0, 0,
            0, 0, 0, 2.1, 0.9, 0, 0, 0]
p23_rain = [0.7, 9.1, 0.3, 0, 0, 2.3, 0, 0,
            0, 0, 0, 0, 0, 5.1, 3.4, 0,
            0, 0, 0, 0, 0, 0, 0, 0,
            0, 0, 0, 0, 0, 0, 1.3, 0,
            0, 0, 0, 0, 0, 0, 0, 0,
            0, 0, 0, 0, 0, 0, 1.9, 0,
            0, 0, 0, 0.8, 0, 0, 0, 0,
            0, 0, 0, 0, 0, 0, 0, 0]
p24_rain = [0.4, 3.4, 0.1, 0, 0, 0, 0, 6.8,
            2.1, 0, 0, 0, 0, 17.6, 5.6, 0,
            0, 0, 0, 0, 2.1, 0, 0, 0,
            0, 0, 0, 0, 0, 0, 0, 2.8,
            3.4, 2.0, 0, 0, 0, 0, 0, 0,
            0, 0, 0, 0, 3.4, 2.2, 0, 0,
            0, 0, 0, 0, 0, 0, 0, 0,
            0, 0, 0, 0, 0, 0, 0, 0]
p25_rain = [0.6, 7.7, 0.2, 0, 0, 3.3, 0, 0,
            0, 0, 0, 1.5, 0, 0, 4.1, 0,
            0, 0, 0.9, 0, 0, 0, 0, 0,
            0, 0, 0, 0, 0, 0, 0, 0,
            0, 0, 0, 0, 0, 0, 0, 0,
            0, 0, 0, 0, 0, 0, 0, 0,
            0, 0, 0, 0, 0, 0, 2.0, 2.4,
            0, 2.4, 2.4, 9.0, 4.0, 4.0, 0.3, 0]
p26_rain = [0.3, 2.6, 0, 0, 0, 0, 2.7, 0,
            0, 3.1, 0, 0, 0, 0, 0, 2.2,
            0, 0, 0, 0, 0, 0, 0, 0,
            0, 0, 0, 0, 0, 0, 0, 0,
            0, 0, 0, 0, 0, 0, 0, 0,
            0, 0, 0, 0, 0, 1.6, 2.4, 0,
            0, 0, 0, 0, 0, 0, 0, 0,
            0, 0, 0, 0, 0, 0, 0, 1.8]
p27_rain = [0.8, 11.2, 0.4, 0, 0, 2.9, 0, 0,
            0, 2.2, 0, 0, 0, 0, 0, 0,
            4.6, 0, 0, 0, 0, 0, 0, 0,
            0, 0, 0, 0, 0, 0, 0, 0,
            3.6, 2.2, 0, 0, 0, 0, 0, 0,
            0, 0, 0, 0, 0, 0, 0, 0,
            0, 0, 0, 0, 0, 2.6, 0, 0,
            0, 3.2, 1.9, 0, 0, 0, 0, 0]
p28_rain = [0.2, 4.9, 0.1, 0, 0, 0, 3.6, 0,
            0, 0, 2.4, 0, 0, 0, 0, 0,
            0, 1.5, 0, 0, 0, 0, 0, 0,
            0, 0, 0, 0, 0, 0, 0.6, 0,
            0, 0, 0, 0, 0, 0, 0, 0,
            0, 0, 0, 0, 0, 0, 0, 0,
            0, 2.1, 1.0, 0, 0, 0, 0, 0,
            0, 0, 0, 0, 0, 0, 0, 0]
p29_rain = [0.5, 3.1, 0, 0, 0, 1.7, 0, 0,
            0, 0, 0, 0, 1.3, 0, 0, 0,
            3.1, 0, 0, 0, 0, 0, 0, 0,
            0, 0, 0, 0, 0, 0, 0, 0,
            0, 0, 1.6, 0, 0, 0, 0, 0,
            0, 0, 0, 0, 0, 0, 0, 2.8,
            0, 0, 0, 0, 0, 0, 0, 0,
            0, 0, 0, 0, 0, 0, 0, 0]
p30_rain = [0.3, 5.6, 0.2, 0, 0, 0, 0, 2.6,
            0, 0, 0, 0, 0, 0, 2.9, 0,
            4.0, 0, 0, 0, 0, 0, 0, 0,
            0, 0, 0, 0, 0, 0, 0, 0,
            0, 1.6, 0, 0, 0, 0, 0, 0,
            0, 0, 0, 0, 0, 0, 0, 0,
            0, 0, 0, 0, 0, 0, 0, 0,
            0, 0, 0, 0, 0, 1.2, 0, 0]
control_rain = [1.2, 2.0, 0.2, 0.1, 0.5, 5.7, 5.1, 2.2,
                0.3, 0.1, 0, 0.2, 0.7, 0.3, 0.1, 0.3,
                3.5, 0.4, 0.1, 0.1, 0, 0.1, 0.1, 0,
                0, 0, 0, 0, 0, 0.1, 0.2, 0.1,
                0.5, 0.2, 0.1, 0.3, 0.6, 0.2, 0, 0,
                0, 0.1, 0, 0, 0, 0, 0.1, 0.3,
                0.1, 0, 0, 0, 0.2, 0, 0, 0,
                0.1, 0, 0, 0, 0, 0.1, 0, 0]
mean_rain = [1.7, 3.8, 0.3, 0.2, 0.7, 2.7, 1.4, 0.8,
             1.4, 0.4, 0.2, 0.7, 2.3, 2.3, 1.4, 0.5,
             1.4, 0.7, 0.2, 0.2, 0.4, 0.3, 0.15, 0.1,
             0.1, 0.1, 0.2, 0.2, 0.2, 0.4, 0.8, 1.1,
             0.5, 0.3, 0.5, 0.7, 0.5, 0.3, 0.2, 0.4,
             0.2, 0.2, 0.2, 0.2, 0.2, 0.2, 0.2, 0.5,
             0.5, 0.2, 0.2, 0.2, 0.2, 0.2, 0.1, 0.4,
             0.2, 0.2, 0.4, 0.4, 0.2, 0.2, 0.2, 0.1]
oper_rain = [0.5, 5.0, 0.3, 0.1, 0.3, 1.2, 2.3, 0.2,
             0.5, 0.1, 0.1, 0.2, 1.0, 4.5, 1.8, 0.1,
             6.0, 0.3, 0.1, 0, 0, 0, 0, 0,
             0, 0, 0, 0, 0.1, 1.7, 0.2, 0,
             0, 0, 0.1, 0, 0, 0, 0, 0,
             0, 0, 0, 0, 0, 0, 0, 0,
             0, 0, 0, 0, 0, 0, 0, 0,
             0, 0, 0, 0, 0, 0, 0, 0]

member_colors = ['#2233cc', '#1a55c8', '#1f7fc6', '#1b9dcc', '#1a9fae',
                 '#14a184', '#14a066', '#12a24a', '#12a830', '#10b418',
                 '#b0b01a', '#b8a014', '#c09414', '#c08814', '#bf7414',
                 '#bc6216', '#b04e1c', '#ae3e1e', '#a02a18', '#962222']

member_dew = [p01_dew, p02_dew, p03_dew, p04_dew, p05_dew, p06_dew, p07_dew, p08_dew,
              p09_dew, p10_dew, p11_dew, p12_dew, p13_dew, p14_dew, p15_dew, p16_dew,
              p17_dew, p18_dew, p19_dew, p20_dew, p21_dew, p22_dew, p23_dew, p24_dew,
              p25_dew, p26_dew, p27_dew, p28_dew, p29_dew, p30_dew]
member_rain = [p01_rain, p02_rain, p03_rain, p04_rain, p05_rain, p06_rain, p07_rain, p08_rain,
               p09_rain, p10_rain, p11_rain, p12_rain, p13_rain, p14_rain, p15_rain, p16_rain,
               p17_rain, p18_rain, p19_rain, p20_rain, p21_rain, p22_rain, p23_rain, p24_rain,
               p25_rain, p26_rain, p27_rain, p28_rain, p29_rain, p30_rain]

W, H = 850, 620
fig = plt.figure(figsize=(W / 100, H / 100), dpi=100, facecolor='black')
left, right, top, bottom = 163.3, 810.5, 30, 559.5
ax = fig.add_axes([left / W, 1 - bottom / H, (right - left) / W, (bottom - top) / H])
ax.set_facecolor('black')
ax2 = ax.twinx()

for i in range(30):
    ax.plot(times, member_dew[i], color=member_colors[i % 20], lw=0.8, label=f'P{i + 1}')
    ax2.plot(times, member_rain[i], color=member_colors[i % 20], lw=0.8)
ax.plot(times, control_dew, color='#0000ff', lw=2.6, label='Control')
ax.plot(times, mean_dew, color='white', lw=2.6, label='Ens. mean')
ax.plot(times, oper_dew, color='#00cc00', lw=2.6, label='Oper')
ax2.plot(times, control_rain, color='#0000ff', lw=2.6)
ax2.plot(times, mean_rain, color='white', lw=2.6)
ax2.plot(times, oper_rain, color='#00cc00', lw=2.6)

ax.axhline(0, color='white', lw=1.1, zorder=1.8)

ax.set_xlim(pd.Timestamp('2025-07-20 00:00'), pd.Timestamp('2025-08-05 06:00'))
ax.set_ylim(-10, 35)
ax2.set_ylim(0, 40)

ax.set_xticks(pd.date_range('2025-07-20', '2025-08-05', freq='2D'))
ax.set_xticks(pd.date_range('2025-07-20', '2025-08-05', freq='D'), minor=True)
ax.xaxis.set_major_formatter(mdates.DateFormatter('%d%b %Hz'))
ax.set_yticks(range(-10, 36, 5))

grid_kw = dict(color='#3c3c32', ls=(0, (4, 4)), lw=0.8)
ax.grid(which='both', axis='x', **grid_kw)
ax.grid(which='major', axis='y', **grid_kw)

ax.tick_params(axis='x', which='both', length=0, colors='white', labelsize=6.5, pad=6.5)
ax.tick_params(axis='y', length=0, colors='white', labelsize=7, pad=7)

ax2.yaxis.set_major_locator(MultipleLocator(2))
ax2.yaxis.set_minor_locator(MultipleLocator(1))
ax2.yaxis.set_major_formatter(FuncFormatter(lambda v, p: f'{v:.0f}' if v % 10 == 0 else ''))
ax2.tick_params(axis='y', which='major', direction='in', length=5, color='white',
                labelcolor='white', labelsize=7, pad=5)
ax2.tick_params(axis='y', which='minor', direction='in', length=2.5, color='white')

for a in (ax, ax2):
    for s in a.spines.values():
        s.set_color('white')
        s.set_linewidth(1.1)

ax.set_ylabel('2m Dewpoint (°C)', color='white', fontsize=7.5)
ax.yaxis.set_label_coords(-0.042, 0.5)
ax2.set_ylabel('Precipitation (mm)', color='white', fontsize=7.5)
ax2.yaxis.set_label_coords(1.038, 0.5)
ax.set_xlabel('Date (UTC)', color='white', fontsize=7.5)
ax.xaxis.set_label_coords(0.5, -0.046)

fig.text(436 / W, 1 - 12 / H, 'De Bilt  (NL)  2m Dewpoint & Precipitation | Sun, 20Jul2025 06Z',
         ha='center', va='center', color='white', fontsize=11.4, fontweight='bold')
fig.text(120 / W, 1 - 598 / H, 'GFS Ensemble, 52N, 5E', ha='left', va='center',
         color='#e6e6e6', fontsize=11.5)
fig.text(650 / W, 1 - 598 / H, 'Wetterzentrale.de', ha='left', va='center',
         color='#e6e6e6', fontsize=11.5)

handles, labels = ax.get_legend_handles_labels()
order = list(range(0, 30, 2)) + [30, 32] + list(range(1, 30, 2)) + [31]
leg = fig.legend([handles[i] for i in order], [labels[i] for i in order],
                 loc='upper left', bbox_to_anchor=(0, 1 - 36 / H), ncol=2, frameon=False,
                 fontsize=7.5, labelcolor='white', handlelength=0.8, handletextpad=0.1,
                 columnspacing=0.7, labelspacing=0.47, borderpad=0, borderaxespad=0)
for line, lab in zip(leg.get_lines(), [labels[i] for i in order]):
    line.set_linewidth(1.6 if lab.startswith('P') else 2.4)

fig.savefig('out.png', dpi=100, facecolor='black')
